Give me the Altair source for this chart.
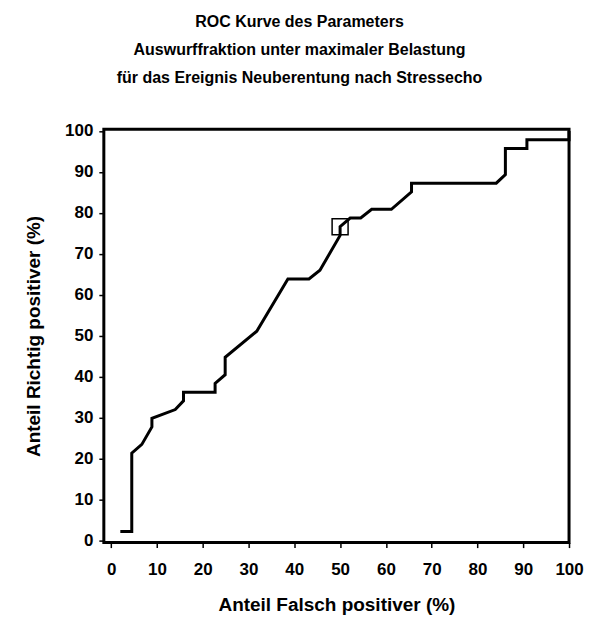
import altair as alt
import pandas as pd

# ROC curve vertices (false positive %, true positive %)
fpr = [2.0, 4.5, 4.5, 6.7, 8.9, 8.9, 14.0, 15.8, 15.8, 22.7, 22.7, 24.9, 24.9,
       31.8, 38.6, 43.2, 45.6, 50.0, 50.0, 52.2, 54.5, 56.9, 61.2, 65.6, 65.6,
       84.1, 86.1, 86.1, 90.8, 90.8, 100.0, 100.0]
tpr = [2.13, 2.13, 21.28, 23.40, 27.66, 29.79, 31.91, 34.04, 36.17, 36.17, 38.30,
       40.43, 44.68, 51.06, 63.83, 63.83, 65.96, 74.47, 76.60, 78.72, 78.72, 80.85,
       80.85, 85.11, 87.23, 87.23, 89.36, 95.74, 95.74, 97.87, 97.87, 100.0]

# optimal cut point marker
cut_fpr = [50.0]
cut_tpr = [76.60]

# ticks every 5, labels every 10
tick_values = list(range(0, 101, 5))
label_values = list(range(0, 101, 10))

title_lines = [
    "ROC Kurve des Parameters",
    "Auswurffraktion unter maximaler Belastung",
    "für das Ereignis Neuberentung nach Stressecho",
]

df = pd.DataFrame({"fpr": fpr, "tpr": tpr, "order": list(range(len(fpr)))})
cut_df = pd.DataFrame({"fpr": cut_fpr, "tpr": cut_tpr})

label_expr = "indexof([" + ",".join(str(v) for v in label_values) + "], datum.value) >= 0 ? datum.label : ''"

x_scale = alt.Scale(domain=[-1.6, 100], nice=False, zero=False)
y_scale = alt.Scale(domain=[-0.6, 100.4], nice=False, zero=False)

x_axis = alt.Axis(title="Anteil Falsch positiver (%)", values=tick_values,
                  labelExpr=label_expr, labelPadding=14, titlePadding=18,
                  labelOverlap=False, labelFlush=False)
y_axis = alt.Axis(title="Anteil Richtig positiver (%)", values=tick_values,
                  labelExpr=label_expr, labelPadding=6, titlePadding=21,
                  labelOverlap=False, labelFlush=False)

line = alt.Chart(df).mark_line(color="black", strokeWidth=3, strokeJoin="miter").encode(
    x=alt.X("fpr:Q", scale=x_scale, axis=x_axis),
    y=alt.Y("tpr:Q", scale=y_scale, axis=y_axis),
    order="order:Q",
)

marker = alt.Chart(cut_df).mark_point(shape="square", size=256, filled=False,
                                      color="black", strokeWidth=1.5, opacity=1).encode(
    x=alt.X("fpr:Q", scale=x_scale),
    y=alt.Y("tpr:Q", scale=y_scale),
)

chart = alt.layer(line, marker).properties(
    width=466,
    height=414,
    background="white",
    padding={"left": 16, "top": 5, "right": 5, "bottom": 0},
    title=alt.TitleParams(
        text=title_lines,
        anchor="middle",
        frame="group",
        font="Liberation Sans",
        fontSize=16,
        fontWeight="bold",
        lineHeight=28,
        offset=36,
        dx=-37,
        color="black",
    ),
).configure_view(
    stroke="black", strokeWidth=3
).configure_axis(
    domain=False,
    grid=False,
    tickColor="black",
    tickSize=5,
    tickWidth=1.5,
    labelFont="Liberation Sans",
    labelFontSize=17,
    labelFontWeight="bold",
    labelColor="black",
    titleFont="Liberation Sans",
    titleFontSize=19,
    titleFontWeight="bold",
    titleColor="black",
)

chart.save("out.html", embed_options={"renderer": "svg", "actions": False})
